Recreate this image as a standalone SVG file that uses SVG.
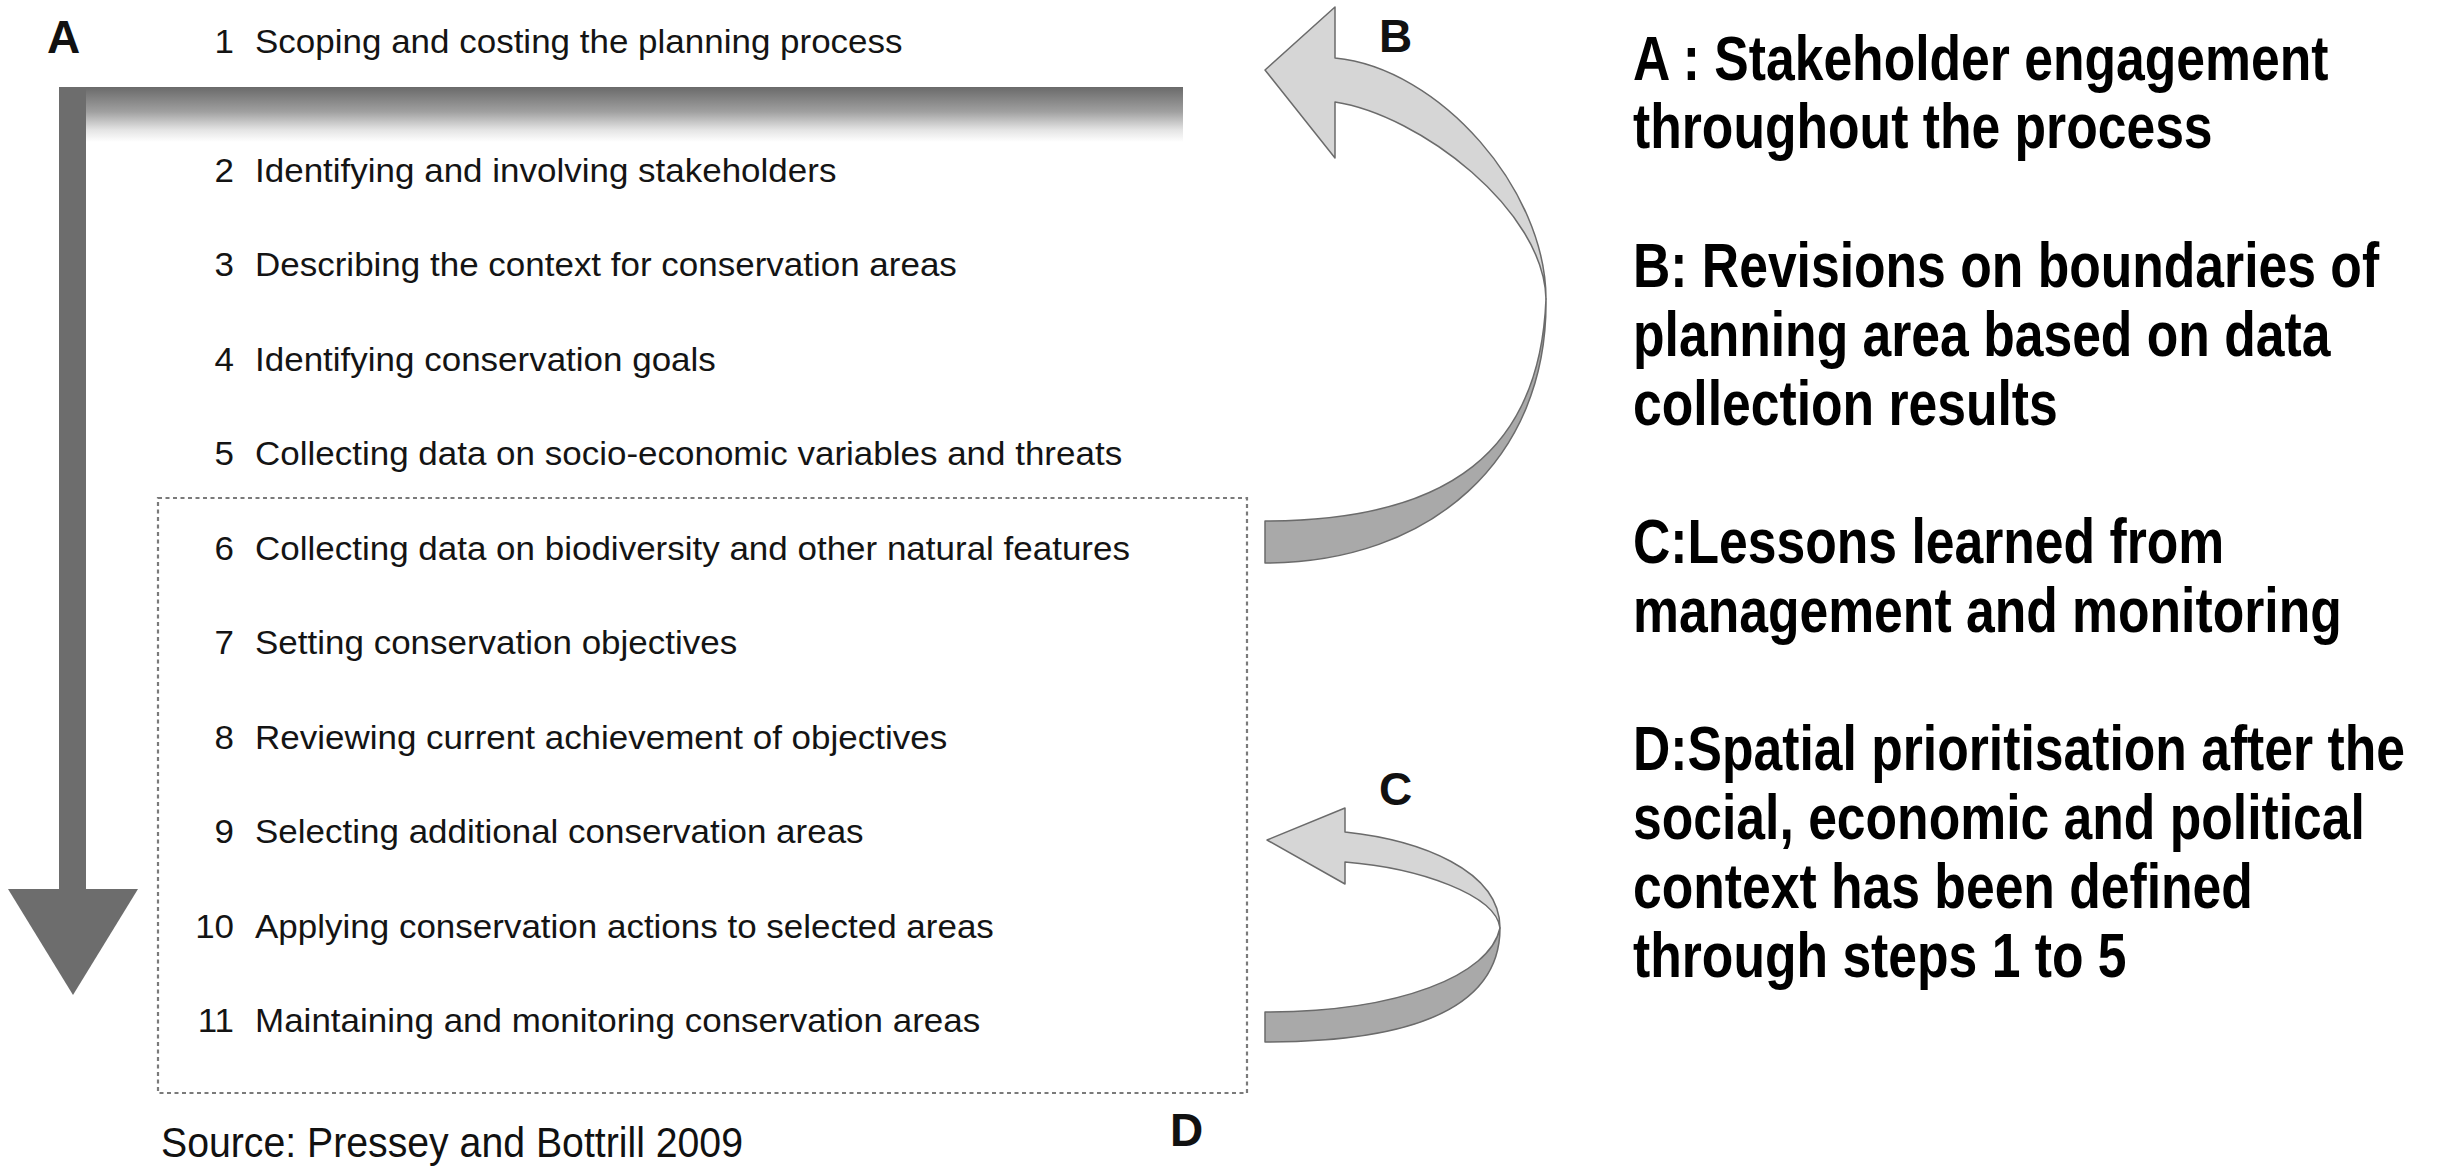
<svg xmlns="http://www.w3.org/2000/svg" width="2446" height="1167" viewBox="0 0 2446 1167">
<defs>
<linearGradient id="barGrad" x1="0" y1="87" x2="0" y2="142" gradientUnits="userSpaceOnUse">
<stop offset="0" stop-color="#6a6a6a"/>
<stop offset="0.45" stop-color="#a0a0a0"/>
<stop offset="0.78" stop-color="#e4e4e4"/>
<stop offset="1" stop-color="#ffffff"/>
</linearGradient>
</defs>
<style>
.step{font-family:"Liberation Sans",Arial,sans-serif;font-size:33px;fill:#141414}
.num{text-anchor:end}
.lbl{font-family:"Liberation Sans",Arial,sans-serif;font-size:46px;font-weight:bold;fill:#111}
.note{font-family:"Liberation Sans",Arial,sans-serif;font-size:63px;font-weight:bold;fill:#000}
.light{fill:#d6d6d6;stroke:#6b6b6b;stroke-width:1.5;stroke-linejoin:round}
.dark{fill:#a9a9a9;stroke:#6b6b6b;stroke-width:1.5;stroke-linejoin:round}
.shaft{fill:#6d6d6d}
</style>
<rect width="2446" height="1167" fill="#ffffff"/>

<g id="connectors">
<g id="arrowA">
<rect x="59" y="87" width="1124" height="55" fill="url(#barGrad)"/>
<rect class="shaft" x="59" y="87" width="27" height="805"/>
<polygon class="shaft" points="8,889 138,889 73,995"/>
</g>
<g id="arrowB">
<path class="dark" d="M1546,299 C1548,460 1430,563 1265,563 L1265,521 C1450,521 1540,450 1546,299 Z"/>
<path class="light" d="M1265,70 L1335,7 L1335,58 C1440,68 1546,190 1546,299 C1544,210 1420,115 1335,102 L1335,158 Z"/>
</g>
<g id="arrowC">
<path class="dark" d="M1500,928 C1500,1010 1410,1042 1265,1042 L1265,1012 C1400,1012 1490,975 1500,928 Z"/>
<path class="light" d="M1267,840 L1345,808 L1345,832 C1420,840 1500,870 1500,928 C1496,895 1420,868 1345,862 L1345,884 Z"/>
</g>
</g>

<g id="boxD">
<rect x="158" y="498" width="1089" height="595" fill="none" stroke="#7a7a7a" stroke-width="2.2" stroke-dasharray="4 3.5"/>
</g>

<g id="labels">
<text id="labelA" class="lbl" x="47" y="53">A</text>
<text id="labelB" class="lbl" x="1379" y="52">B</text>
<text id="labelC" class="lbl" x="1379" y="805">C</text>
<text id="labelD" class="lbl" x="1170" y="1146">D</text>
</g>

<g id="steps" transform="scale(1.06,1)">
<g id="step1"><text class="step num" x="220.8" y="53">1</text><text class="step" x="240.6" y="53">Scoping and costing the planning process</text></g>
<g id="step2"><text class="step num" x="220.8" y="182">2</text><text class="step" x="240.6" y="182">Identifying and involving stakeholders</text></g>
<g id="step3"><text class="step num" x="220.8" y="276">3</text><text class="step" x="240.6" y="276">Describing the context for conservation areas</text></g>
<g id="step4"><text class="step num" x="220.8" y="371">4</text><text class="step" x="240.6" y="371">Identifying conservation goals</text></g>
<g id="step5"><text class="step num" x="220.8" y="465">5</text><text class="step" x="240.6" y="465">Collecting data on socio-economic variables and threats</text></g>
<g id="step6"><text class="step num" x="220.8" y="560">6</text><text class="step" x="240.6" y="560">Collecting data on biodiversity and other natural features</text></g>
<g id="step7"><text class="step num" x="220.8" y="654">7</text><text class="step" x="240.6" y="654">Setting conservation objectives</text></g>
<g id="step8"><text class="step num" x="220.8" y="749">8</text><text class="step" x="240.6" y="749">Reviewing current achievement of objectives</text></g>
<g id="step9"><text class="step num" x="220.8" y="843">9</text><text class="step" x="240.6" y="843">Selecting additional conservation areas</text></g>
<g id="step10"><text class="step num" x="220.8" y="938">10</text><text class="step" x="240.6" y="938">Applying conservation actions to selected areas</text></g>
<g id="step11"><text class="step num" x="220.8" y="1032">11</text><text class="step" x="240.6" y="1032">Maintaining and monitoring conservation areas</text></g>
</g>

<text id="source" x="161" y="1157" font-family="'Liberation Sans',Arial,sans-serif" font-size="42" fill="#111" textLength="582" lengthAdjust="spacingAndGlyphs">Source: Pressey and Bottrill 2009</text>

<g id="notes" transform="scale(0.82,1)">
<g id="noteA">
<text class="note" x="1991.5" y="80">A : Stakeholder engagement</text>
<text class="note" x="1991.5" y="148">throughout the process</text>
</g>
<g id="noteB">
<text class="note" x="1991.5" y="287">B: Revisions on boundaries of</text>
<text class="note" x="1991.5" y="356">planning area based on data</text>
<text class="note" x="1991.5" y="425">collection results</text>
</g>
<g id="noteC">
<text class="note" x="1991.5" y="563">C:Lessons learned from</text>
<text class="note" x="1991.5" y="632">management and monitoring</text>
</g>
<g id="noteD">
<text class="note" x="1991.5" y="770">D:Spatial prioritisation after the</text>
<text class="note" x="1991.5" y="839">social, economic and political</text>
<text class="note" x="1991.5" y="908">context has been defined</text>
<text class="note" x="1991.5" y="977">through steps 1 to 5</text>
</g>
</g>
</svg>
